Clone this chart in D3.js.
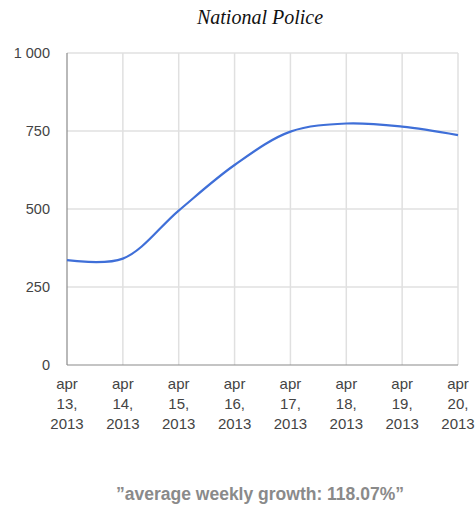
<!DOCTYPE html>
<html><head><meta charset="utf-8">
<script src="https://cdn.jsdelivr.net/npm/d3@7"></script>
<style>body{margin:0;background:#fff}svg{display:block}</style>
</head><body>
<script>
const categories = ["apr 13, 2013","apr 14, 2013","apr 15, 2013","apr 16, 2013","apr 17, 2013","apr 18, 2013","apr 19, 2013","apr 20, 2013"];
const values = [336, 341, 495, 641, 748, 774, 764, 737];
const yTicks = [0, 250, 500, 750, 1000];
const title = "National Police";
const footer = "”average weekly growth: 118.07%”";

(function(){
const W = 475, H = 507;
const svg = d3.select("body").append("svg").attr("width", W).attr("height", H);
const mL = 67, mR = 458, mT = 53, mB = 365;

const x = d3.scalePoint().domain(categories).range([mL, mR]);
const y = d3.scaleLinear().domain([0, 1000]).range([mB, mT]);

svg.append("g").selectAll("line").data(yTicks.filter(d=>d>0)).join("line")
  .attr("x1", mL).attr("x2", mR).attr("y1", d=>y(d)).attr("y2", d=>y(d))
  .attr("stroke", "#e0e0e0").attr("stroke-width", 1.5);
svg.append("g").selectAll("line").data(categories.slice(1)).join("line")
  .attr("x1", d=>x(d)).attr("x2", d=>x(d)).attr("y1", mT).attr("y2", mB)
  .attr("stroke", "#e0e0e0").attr("stroke-width", 1.5);

svg.append("line").attr("x1", mL).attr("x2", mR).attr("y1", mB).attr("y2", mB)
  .attr("stroke", "#8a8a8a").attr("stroke-width", 1.2);
svg.append("line").attr("x1", mL).attr("x2", mL).attr("y1", mT).attr("y2", mB)
  .attr("stroke", "#8a8a8a").attr("stroke-width", 1.2);

const fmt = d => d3.format(",")(d).replace(/,/g, " ");
svg.append("g").selectAll("text").data(yTicks).join("text")
  .attr("x", 50).attr("y", d=>y(d)).attr("dy", "0.35em")
  .attr("text-anchor", "end").attr("font-family", "Arial, 'Liberation Sans', sans-serif")
  .attr("font-size", 14.5).attr("fill", "#444").text(fmt);

const xl = svg.append("g").selectAll("text").data(categories).join("text")
  .attr("text-anchor", "middle").attr("font-family", "Arial, 'Liberation Sans', sans-serif")
  .attr("font-size", 15).attr("fill", "#444")
  .attr("transform", d=>`translate(${x(d)},${mB + 24})`);
xl.each(function(d){
  const parts = d.split(" ");
  d3.select(this).selectAll("tspan").data(parts).join("tspan")
    .attr("x", 0).attr("dy", (t,i)=> i===0 ? 0 : 20).text(t=>t);
});

const line = d3.line().x((d,i)=>x(categories[i])).y(d=>y(d)).curve(d3.curveCatmullRom.alpha(0.5));
svg.append("path").datum(values).attr("d", line)
  .attr("fill", "none").attr("stroke", "#3f6fd8").attr("stroke-width", 2.2);

svg.append("text").attr("x", 260).attr("y", 24).attr("text-anchor", "middle")
  .attr("font-family", "'Liberation Serif', 'Times New Roman', serif").attr("font-style", "italic")
  .attr("font-size", 20).attr("fill", "#111").text(title);

svg.append("text").attr("x", 260).attr("y", 500).attr("text-anchor", "middle")
  .attr("font-family", "Arial, 'Liberation Sans', sans-serif").attr("font-weight", "bold")
  .attr("font-size", 17.5).attr("fill", "#8a8a8a").text(footer);
})();
</script>
</body></html>
